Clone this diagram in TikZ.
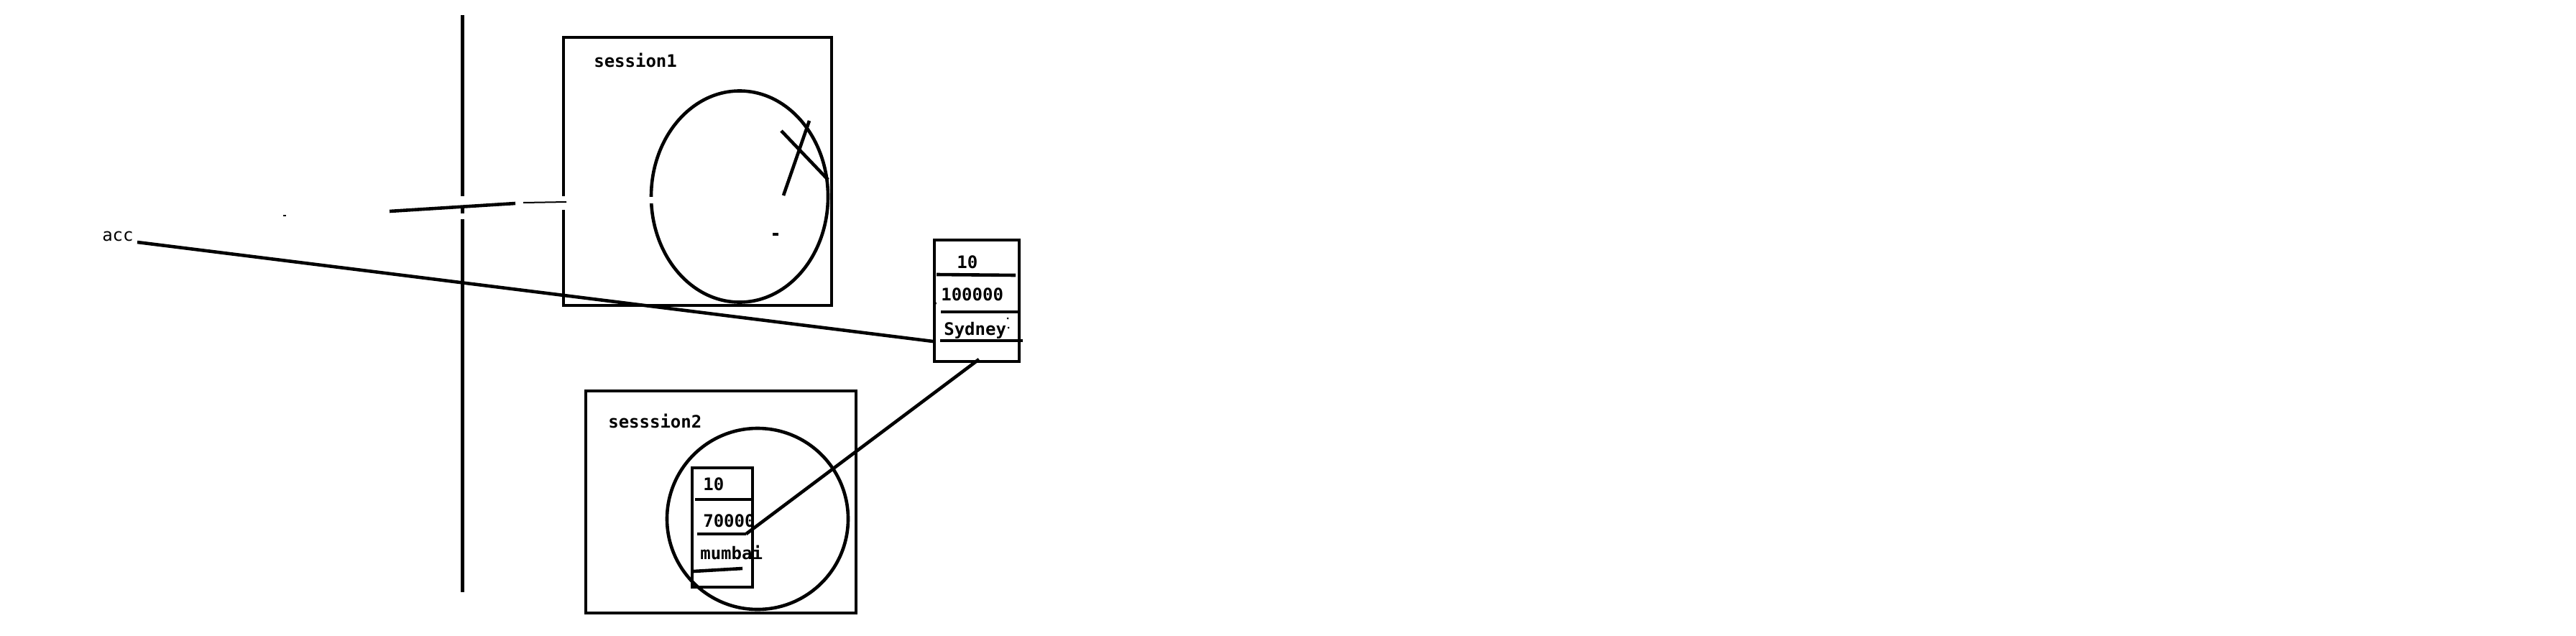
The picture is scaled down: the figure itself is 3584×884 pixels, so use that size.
\documentclass[tikz,border=0pt]{standalone}
\usepackage{fontspec}
\setmonofont{DejaVu Sans Mono}

\begin{document}
\begin{tikzpicture}[x = 1pt, y = -1pt, line width = 4.6pt]

	\tikzset{
		memtext/.style = {font = \ttfamily\bfseries\fontsize{24}{27}\selectfont, inner sep = 0pt, anchor = base west},
		reftext/.style = {font = \ttfamily\fontsize{24}{27}\selectfont, inner sep = 0pt, anchor = base west},
		erase/.style = {draw = white, line width = 7pt}
	}

	% Page
	
	\useasboundingbox (0, 0) rectangle (3584, 884);
	
	% Stack / heap divider
	
	\draw [line width = 5pt] (643, 21) coordinate (div-top) -- (643, 824) coordinate (div-bot);
	
	% Session 1
	
	\draw (784, 52) rectangle (1157, 425);
	\node [memtext] (s1-name) at (824, 93) {session1};
	\draw (1029, 273.5) circle [x radius = 123, y radius = 147];
	\draw (1087, 182) -- (1152, 250);
	\draw (1126, 168) -- (1090, 272);
	\draw (1075, 326) -- (1083, 326);
	
	% Session 2
	
	\draw (815, 544) rectangle (1191, 853);
	\node [memtext] (s2-name) at (844, 595) {sesssion2};
	\draw (1054, 722) circle (126);
	
	% Account object held by session 2
	
	\draw (963, 651) rectangle (1047, 817);
	\node [memtext] (s2-id) at (976, 682) {10};
	\draw (967, 695) -- (1045, 695);
	\node [memtext] (s2-bal) at (976, 733) {70000};
	\draw (970, 743) coordinate (s2-out) -- (1038, 743) coordinate (s2-link);
	\node [memtext] (s2-city) at (972, 778) {mumbai};
	\draw (965, 795) -- (1033, 791);
	
	% Account object on the heap
	
	\draw (1300, 334) rectangle (1418, 503);
	\node [memtext] (obj-id) at (1329, 373) {10};
	\draw (1303, 382) -- (1413, 383);
	\node [memtext] (obj-bal) at (1307, 418) {100000};
	\draw (1309, 434) -- (1420, 434);
	\node [memtext] (obj-city) at (1311, 466) {Sydney};
	\draw (1308, 474) -- (1423, 474);
	\coordinate (obj-in) at (1298, 475);
	\coordinate (obj-bot) at (1362, 500);
	\fill (1301, 422) circle (2pt) (1402, 443) circle (1.5pt) (1403, 456) circle (1.5pt);
	
	% Gaps where the old link was rubbed out
	
	\draw [erase] (643, 273) -- (643, 286);
	\draw [erase] (643, 297) -- (643, 305);
	\draw [erase] (785, 273) -- (785, 292);
	\draw [erase] (906, 274) -- (906, 283);
	
	% Old link from the stack into session 1
	
	\draw (542, 294) coordinate (old-start) -- (717, 283) coordinate (old-mid);
	\draw [line width = 2pt] (728, 282) -- (788, 281) coordinate (old-end);
	\draw [line width = 2pt] (394, 300) -- (398, 300);
	
	% Reference variable
	
	\node [reftext] (acc) at (140, 335) {acc};
	\coordinate (acc-out) at (191, 337);
	\draw (acc-out) -- (obj-in);
	
	% Link from session 2 copy
	
	\draw (s2-link) -- (obj-bot);

\end{tikzpicture}
\end{document}
